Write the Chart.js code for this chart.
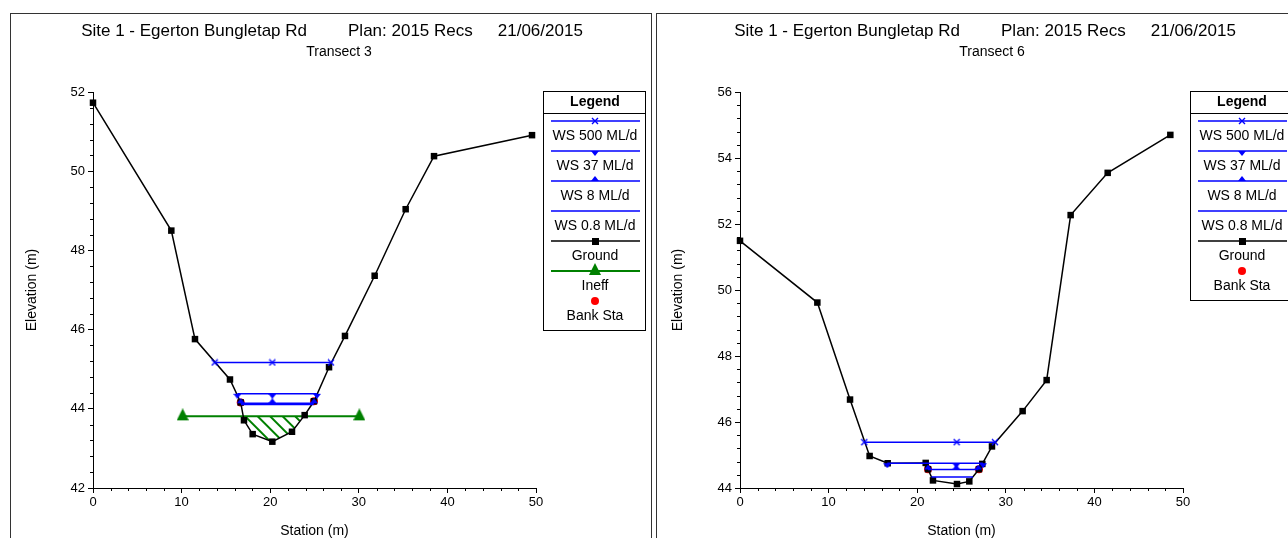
<!DOCTYPE html>
<html><head><meta charset="utf-8">
<script src="https://cdn.jsdelivr.net/npm/chart.js@4.4.1/dist/chart.umd.min.js"></script>
<style>
html,body{margin:0;padding:0;background:#fff;overflow:hidden;width:1288px;height:538px;}
.panel{position:absolute;border:1px solid #333;box-sizing:border-box;}
canvas{position:absolute;top:0;}
</style></head><body>
<div class="panel" style="left:10px;top:13px;width:642px;height:600px"></div>
<div class="panel" style="left:656px;top:13px;width:700px;height:600px"></div>
<canvas id="c1" width="652" height="538" style="left:0"></canvas>
<canvas id="c2" width="636" height="538" style="left:652px"></canvas>
<script>
// ---------- data ----------
const titleParts = ['Site 1 - Egerton Bungletap Rd', 'Plan: 2015 Recs', '21/06/2015'];
const subtitle3 = 'Transect 3';
const subtitle6 = 'Transect 6';
const xAxisTitle = 'Station (m)';
const yAxisTitle = 'Elevation (m)';
const legendTitle = 'Legend';
const wsLabels = ['WS 500 ML/d', 'WS 37 ML/d', 'WS 8 ML/d', 'WS 0.8 ML/d'];
const groundLabel = 'Ground';
const ineffLabel = 'Ineff';
const bankLabel = 'Bank Sta';

const xTicksMin = 0, xTicksMax = 50, xMajor = 10, xMinor = 2;
const yMajor = 2, yMinor = 0.4;
const t3YMin = 42, t3YMax = 52;
const t6YMin = 44, t6YMax = 56;

// Transect 3
const t3GroundStation = [0, 8.84, 11.51, 15.46, 16.67, 17.04, 18.02, 20.24, 22.46, 23.89, 24.94, 26.64, 28.44, 31.79, 35.29, 38.49, 49.55];
const t3GroundElev    = [51.73, 48.50, 45.76, 44.74, 44.16, 43.71, 43.36, 43.17, 43.42, 43.84, 44.19, 45.05, 45.84, 47.36, 49.04, 50.38, 50.91];
const t3WsElev   = [45.17, 44.38, 44.14, 44.11];
const t3WsLeft   = [13.73, 16.29, 16.67, 16.70];
const t3WsMid    = [20.24, 20.24, 20.24, 20.24];
const t3WsRight  = [26.86, 25.28, 24.94, 24.90];
const t3IneffStation = [10.12, 30.06];
const t3IneffElev    = [43.81, 43.81];
const t3BankStation = [16.67, 24.94];
const t3BankElev    = [44.16, 44.19];

// Transect 6
const t6GroundStation = [0, 8.73, 12.42, 14.63, 16.67, 20.96, 21.22, 21.78, 24.49, 25.88, 26.97, 27.35, 28.44, 31.90, 34.61, 37.32, 41.50, 48.57];
const t6GroundElev    = [51.49, 49.62, 46.68, 44.97, 44.75, 44.76, 44.57, 44.23, 44.12, 44.20, 44.57, 44.73, 45.26, 46.33, 47.27, 52.27, 53.55, 54.70];
const t6WsElev   = [45.39, 44.75, 44.56, 44.33];
const t6WsLeft   = [14.03, 16.62, 21.22, 21.60];
const t6WsMid    = [24.45, 24.41, 24.41, 24.41];
const t6WsRight  = [28.78, 27.42, 26.90, 26.30];
const t6BankStation = [21.22, 26.97];
const t6BankElev    = [44.57, 44.57];

// ---------- styling ----------
const FONT = "'Liberation Sans', Arial, Helvetica, sans-serif";
const BLUE = '#0000ff', GREEN = '#008000', RED = '#ff0000', BLACK = '#000000';

function mk(w, h, draw) { const c = document.createElement('canvas'); c.width = w; c.height = h; const g = c.getContext('2d'); draw(g); return c; }
const mkCross = mk(8, 8, g => { g.strokeStyle = BLUE; g.lineWidth = 1.4; g.beginPath(); g.moveTo(1,1); g.lineTo(7,7); g.moveTo(7,1); g.lineTo(1,7); g.stroke(); });
const mkDown  = mk(8, 10, g => { g.fillStyle = BLUE; g.beginPath(); g.moveTo(0,5); g.lineTo(8,5); g.lineTo(4,10); g.closePath(); g.fill(); });
const mkUp    = mk(8, 10, g => { g.fillStyle = BLUE; g.beginPath(); g.moveTo(4,0); g.lineTo(8,5); g.lineTo(0,5); g.closePath(); g.fill(); });
const mkIneff = mk(12, 16, g => { g.fillStyle = GREEN; g.beginPath(); g.moveTo(6,0); g.lineTo(12,12); g.lineTo(0,12); g.closePath(); g.fill(); });
const wsMarkers = [mkCross, mkDown, mkUp, null];

function pts(xs, ys) { return xs.map((x, i) => ({ x: x, y: ys[i] })); }

function buildDatasets(wsElev, wsLeft, wsMid, wsRight, gX, gY, ineffX, ineffY, bankX, bankY) {
  const ds = [];
  wsLabels.forEach((lab, i) => {
    ds.push({
      label: lab,
      data: pts([wsLeft[i], wsMid[i], wsRight[i]], [wsElev[i], wsElev[i], wsElev[i]]),
      showLine: true, borderColor: BLUE, borderWidth: 1.5,
      pointStyle: wsMarkers[i] || 'circle', pointRadius: wsMarkers[i] ? 4 : 0,
      backgroundColor: BLUE, clip: false
    });
  });
  ds.push({ label: groundLabel, data: pts(gX, gY), showLine: true, borderColor: BLACK, borderWidth: 1.5,
    pointStyle: 'rect', pointRadius: 4.6, backgroundColor: BLACK, pointBorderWidth: 0, clip: false });
  if (ineffX) {
    ds.push({ label: ineffLabel, data: pts(ineffX, ineffY), showLine: true, borderColor: GREEN, borderWidth: 2,
      pointStyle: mkIneff, pointRadius: 6, backgroundColor: GREEN, clip: false, hatch: true });
  }
  ds.push({ label: bankLabel, data: pts(bankX, bankY), showLine: false, borderColor: RED,
    pointStyle: 'circle', pointRadius: 4, backgroundColor: RED, pointBorderWidth: 0, clip: false });
  return ds;
}

// ---------- plugins ----------
const decorPlugin = {
  id: 'decor',
  beforeDatasetsDraw(chart) {
    // hatch of the ineffective area below the ineff level, above the ground
    const d = chart.options.plugins.decor;
    if (!d.hatch) return;
    const ctx = chart.ctx, xs = chart.scales.x, ys = chart.scales.y, ca = chart.chartArea;
    const gx = d.groundX, gy = d.groundY;
    ctx.save();
    ctx.beginPath();
    gx.forEach((v, i) => { const px = xs.getPixelForValue(v), py = ys.getPixelForValue(gy[i]); i ? ctx.lineTo(px, py) : ctx.moveTo(px, py); });
    ctx.lineTo(xs.getPixelForValue(gx[gx.length - 1]), ca.top - 200);
    ctx.lineTo(xs.getPixelForValue(gx[0]), ca.top - 200);
    ctx.closePath(); ctx.clip();
    const xl = xs.getPixelForValue(d.hatchX[0]), xr = xs.getPixelForValue(d.hatchX[1]);
    const yt = ys.getPixelForValue(d.hatchY[0]);
    ctx.beginPath(); ctx.rect(xl, yt, xr - xl, ca.bottom - yt); ctx.clip();
    ctx.strokeStyle = GREEN; ctx.lineWidth = 2;
    ctx.beginPath();
    for (let k = xl - 300; k < xr; k += 12.5) { ctx.moveTo(k, yt); ctx.lineTo(k + 300, yt + 300); }
    ctx.stroke();
    ctx.restore();
  },
  afterDraw(chart) {
    const d = chart.options.plugins.decor;
    const ctx = chart.ctx, xs = chart.scales.x, ys = chart.scales.y, ca = chart.chartArea;
    ctx.save();
    // minor ticks
    ctx.strokeStyle = BLACK; ctx.lineWidth = 1;
    ctx.beginPath();
    const nx = Math.round((xs.max - xs.min) / xMinor);
    for (let i = 0; i <= nx; i++) {
      const v = xs.min + i * xMinor; const r = v / xMajor;
      if (Math.abs(r - Math.round(r)) < 1e-6) continue;
      const px = Math.round(xs.getPixelForValue(v)) + 0.5;
      ctx.moveTo(px, ca.bottom); ctx.lineTo(px, ca.bottom + 3);
    }
    const ny = Math.round((ys.max - ys.min) / yMinor);
    for (let i = 0; i <= ny; i++) {
      const v = ys.min + i * yMinor; const r = (v - ys.min) / yMajor;
      if (Math.abs(r - Math.round(r)) < 1e-6) continue;
      const py = Math.round(ys.getPixelForValue(v)) + 0.5;
      ctx.moveTo(ca.left - 3, py); ctx.lineTo(ca.left, py);
    }
    ctx.stroke();

    // titles
    ctx.fillStyle = BLACK;
    ctx.textBaseline = 'alphabetic';
    ctx.font = '17px ' + FONT;
    const gaps = [41, 25];
    const ws = titleParts.map(t => ctx.measureText(t).width);
    const total = ws.reduce((a, b) => a + b, 0) + gaps[0] + gaps[1];
    let x = d.titleCenter - total / 2;
    ctx.textAlign = 'left';
    titleParts.forEach((t, i) => { ctx.fillText(t, x, 36); x += ws[i] + (gaps[i] || 0); });
    ctx.font = '14px ' + FONT; ctx.textAlign = 'center';
    ctx.fillText(d.subtitle, d.titleCenter + 7, 56);

    // axis titles
    ctx.textBaseline = 'middle';
    ctx.fillText(xAxisTitle, (ca.left + ca.right) / 2, 531);
    ctx.save();
    ctx.translate(d.yTitleX, (ca.top + ca.bottom) / 2);
    ctx.rotate(-Math.PI / 2);
    ctx.fillText(yAxisTitle, 0, 0);
    ctx.restore();

    // legend box
    const L = d.legend;
    const items = chart.data.datasets;
    const lastText = L.top + 45 + (items.length - 1) * 30;
    const bottom = lastText + 14;
    ctx.fillStyle = '#fff';
    ctx.fillRect(L.left, L.top, L.width, bottom - L.top);
    ctx.strokeStyle = BLACK; ctx.lineWidth = 1;
    ctx.strokeRect(L.left + 0.5, L.top + 0.5, L.width, bottom - L.top);
    ctx.beginPath(); ctx.moveTo(L.left, L.top + 22.5); ctx.lineTo(L.left + L.width, L.top + 22.5); ctx.stroke();
    const cx = L.left + L.width / 2 + 1;
    ctx.fillStyle = BLACK; ctx.textAlign = 'center'; ctx.textBaseline = 'middle';
    ctx.font = 'bold 14px ' + FONT;
    ctx.fillText(legendTitle, cx, L.top + 11);
    ctx.font = '14px ' + FONT;
    items.forEach((ds, i) => {
      const ly = L.top + 30 + i * 30;
      if (ds.showLine) {
        ctx.strokeStyle = ds.borderColor; ctx.lineWidth = ds.borderWidth;
        ctx.beginPath(); ctx.moveTo(L.left + 8, ly); ctx.lineTo(L.left + L.width - 5, ly); ctx.stroke();
      }
      if (ds.pointRadius > 0) {
        if (typeof ds.pointStyle === 'object') {
          const im = ds.pointStyle;
          ctx.drawImage(im, Math.round(cx - im.width / 2), Math.round(ly - im.height / 2));
        } else if (ds.pointStyle === 'rect') {
          ctx.fillStyle = ds.backgroundColor; ctx.fillRect(cx - 3, ly - 3, 7, 7);
        } else {
          ctx.fillStyle = ds.backgroundColor; ctx.beginPath(); ctx.arc(cx, ly, ds.pointRadius, 0, Math.PI * 2); ctx.fill();
        }
      }
      ctx.fillStyle = BLACK;
      ctx.fillText(ds.label, cx, ly + 15);
    });
    ctx.restore();
  }
};

function makeChart(id, datasets, yMin, yMax, yWidth, padRight, decor) {
  return new Chart(document.getElementById(id), {
    type: 'scatter',
    data: { datasets: datasets },
    plugins: [decorPlugin],
    options: {
      responsive: false, animation: false, events: [],
      layout: { padding: { top: 92, right: padRight, bottom: 0, left: 0 } },
      plugins: { legend: { display: false }, tooltip: { enabled: false }, title: { display: false }, decor: decor },
      scales: {
        x: {
          type: 'linear', position: 'bottom', min: xTicksMin, max: xTicksMax,
          ticks: { stepSize: xMajor, color: BLACK, font: { family: FONT, size: 13 }, padding: 2, autoSkip: false, maxRotation: 0 },
          grid: { drawOnChartArea: false, tickLength: 5, tickColor: BLACK, color: BLACK },
          border: { color: BLACK, width: 1 },
          afterFit: s => { s.height = 50; }
        },
        y: {
          type: 'linear', position: 'left', min: yMin, max: yMax,
          ticks: { stepSize: yMajor, color: BLACK, font: { family: FONT, size: 13 }, padding: 3, autoSkip: false },
          grid: { drawOnChartArea: false, tickLength: 5, tickColor: BLACK, color: BLACK },
          border: { color: BLACK, width: 1 },
          afterFit: s => { s.width = yWidth; }
        }
      }
    }
  });
}

makeChart('c1',
  buildDatasets(t3WsElev, t3WsLeft, t3WsMid, t3WsRight, t3GroundStation, t3GroundElev, t3IneffStation, t3IneffElev, t3BankStation, t3BankElev),
  t3YMin, t3YMax, 93, 652 - 536,
  { hatch: true, groundX: t3GroundStation, groundY: t3GroundElev, hatchX: t3IneffStation, hatchY: t3IneffElev,
    titleCenter: 332, subtitle: subtitle3, yTitleX: 32, legend: { left: 543, top: 91, width: 102 } });

makeChart('c2',
  buildDatasets(t6WsElev, t6WsLeft, t6WsMid, t6WsRight, t6GroundStation, t6GroundElev, null, null, t6BankStation, t6BankElev),
  t6YMin, t6YMax, 88, 636 - 531,
  { hatch: false, titleCenter: 333, subtitle: subtitle6, yTitleX: 26, legend: { left: 538, top: 91, width: 102 } });
</script>
</body></html>
